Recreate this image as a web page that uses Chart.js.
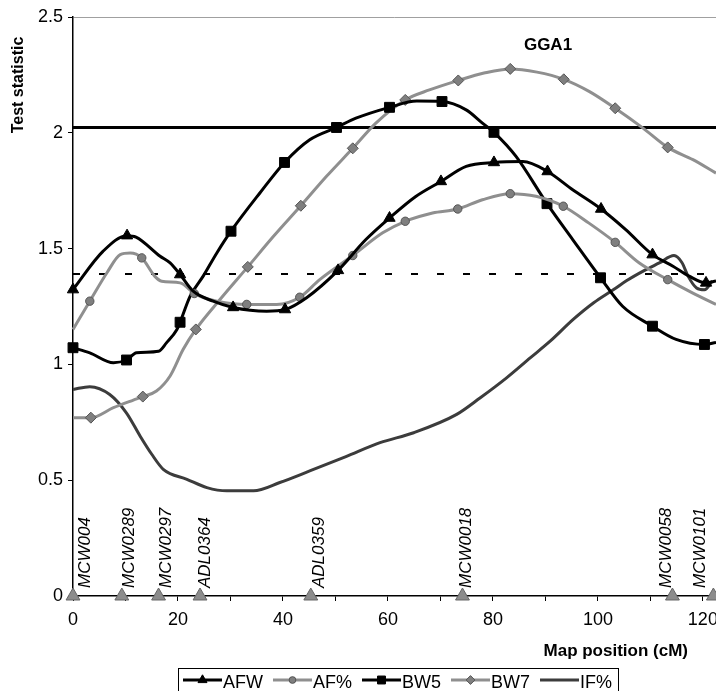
<!DOCTYPE html>
<html><head><meta charset="utf-8">
<script src="https://cdn.jsdelivr.net/npm/chart.js@4.4.1/dist/chart.umd.min.js"></script>
<style>html,body{margin:0;padding:0;background:#fff;}canvas{display:block;}</style>
</head><body>
<canvas id="c" width="716" height="691"></canvas>
<script>
// ---- data ----
const afwX = [0,5.7,10.3,12,16.6,18.5,20.4,22.9,26.7,30.5,36.9,40.4,44.5,50.5,55.8,60.3,65.3,70.1,74.9,80.2,85.7,90.4,95.2,100.6,105.3,110.4,114.3,117.4,120.6,122.5];
const afwY = [1.323,1.488,1.556,1.55,1.467,1.438,1.388,1.316,1.273,1.246,1.23,1.237,1.288,1.406,1.539,1.632,1.725,1.79,1.855,1.872,1.876,1.833,1.754,1.671,1.582,1.474,1.424,1.381,1.352,1.36];
const afwMarks = [0,10.3,20.4,30.5,40.4,50.5,60.3,70.1,80.2,90.4,100.6,110.4,120.6];

const afpX = [0,3.2,6.5,9,10.9,13.1,15.6,16.9,20.4,23.1,24.8,27.4,33.1,38.8,43.2,47,53.3,59,63.3,68.5,73.3,78,83.3,88.2,93.4,98.3,103.3,107.9,113.3,118,122.5];
const afpY = [1.151,1.273,1.397,1.474,1.481,1.46,1.38,1.359,1.352,1.306,1.289,1.273,1.259,1.259,1.29,1.366,1.47,1.568,1.618,1.654,1.671,1.711,1.737,1.726,1.683,1.61,1.527,1.438,1.366,1.309,1.259];
const afpMarks = [3.2,13.1,23.1,33.1,43.2,53.3,63.3,73.3,83.3,93.4,103.3,113.3];

const bw5X = [0,3.2,7.7,10.2,12.1,16.3,17.8,19.8,20.4,22.3,24.8,27.4,30.1,35.6,40.3,45.1,50.2,53.9,60.3,65.5,70.3,74.9,78,80.2,84.4,90.3,95.2,100.5,104.7,110.4,114.9,120.3,122.5];
const bw5Y = [1.072,1.05,1.007,1.019,1.05,1.057,1.093,1.151,1.182,1.294,1.381,1.481,1.575,1.74,1.872,1.97,2.023,2.063,2.11,2.137,2.135,2.099,2.042,2.002,1.898,1.694,1.539,1.374,1.251,1.165,1.108,1.086,1.095];
const bw5Marks = [0,10.2,20.4,30.1,40.3,50.2,60.3,70.3,80.2,90.3,100.5,110.4,120.3];

const bw7X = [0,3.4,7.7,11.5,13.3,15.9,18.5,21,23.4,28,33.3,38.2,43.4,48.3,53.3,57.7,63.3,67.9,73.4,78.3,83.3,88.4,93.5,98.4,103.3,108.6,113.3,118.1,122.5];
const bw7Y = [0.77,0.77,0.813,0.846,0.861,0.885,0.95,1.065,1.151,1.28,1.421,1.553,1.685,1.812,1.933,2.042,2.142,2.185,2.226,2.258,2.276,2.262,2.231,2.178,2.106,2.02,1.937,1.884,1.826];
const bw7Marks = [3.4,13.3,23.4,33.3,43.4,53.3,63.3,73.4,83.3,93.5,103.3,113.3];

const ifpX = [0,3.2,7,10.2,12.8,15,17.2,21.7,25.5,29.3,34.4,39.4,45.1,52,58.5,64.9,73.1,77.6,82.6,87.1,90.9,95.3,99.2,103,105.5,108.8,111.7,114.5,116,117.2,118.8,120.3,121.8];
const ifpY = [0.892,0.904,0.87,0.79,0.69,0.612,0.547,0.504,0.468,0.454,0.454,0.49,0.54,0.602,0.662,0.705,0.784,0.856,0.942,1.028,1.10,1.194,1.266,1.323,1.362,1.405,1.438,1.47,1.44,1.38,1.33,1.322,1.36];

const thresholdSolid = 2.023;
const thresholdDashed = 1.39;
const xRange = [0, 122.5];
const xTicks = [0,10,20,30,40,50,60,70,80,90,100,110,120];

const markerNames = ['MCW004','MCW0289','MCW0297','ADL0364','ADL0359','MCW0018','MCW0058','MCW0101'];
const markerPos   = [0, 9.3, 16.3, 24.2, 45.3, 74.2, 114.2, 122];
const markerLabelPos = [2.3, 10.7, 17.7, 25.2, 46.9, 75, 113.1, 119.5];

// ---- chart ----
const FONT = '"Liberation Sans", Arial, sans-serif';
const GREY = '#8f8f8f';

function series(label, xs, ys, marks, st) {
  return {
    label,
    data: xs.map((v, i) => ({x: v, y: ys[i]})),
    borderColor: st.color,
    backgroundColor: st.color,
    borderWidth: 3,
    pointStyle: st.ps || 'circle',
    pointRadius: ctx => (marks && ctx.dataIndex !== undefined && marks.includes(xs[ctx.dataIndex])) ? st.r : 0,
    pointBackgroundColor: st.fill,
    pointBorderColor: st.pb,
    pointBorderWidth: 1,
    cubicInterpolationMode: 'monotone',
    clip: false,
    fill: false,
    legendItem: st
  };
}

const datasets = [
  series('AFW', afwX, afwY, afwMarks, {color:'#000', ps:'triangle', r:6.5, fill:'#000', pb:'#000'}),
  series('AF%', afpX, afpY, afpMarks, {color:GREY, ps:'circle', r:4.2, fill:'#7f7f7f', pb:'#555'}),
  series('BW5', bw5X, bw5Y, bw5Marks, {color:'#000', ps:'rect', r:7, fill:'#000', pb:'#000'}),
  series('BW7', bw7X, bw7Y, bw7Marks, {color:GREY, ps:'rectRot', r:5.5, fill:'#7f7f7f', pb:'#555'}),
  series('IF%', ifpX, ifpY, null, {color:'#3c3c3c', ps:'line', r:0, fill:'#3c3c3c', pb:'#3c3c3c'}),
  {
    label: 'thr1', data: xRange.map(v => ({x: v, y: thresholdSolid})),
    borderColor: '#000', borderWidth: 3, pointRadius: 0, clip: false
  },
  {
    label: 'thr2', data: xRange.map(v => ({x: v, y: thresholdDashed})),
    borderColor: '#000', borderWidth: 2, borderDash: [7, 19], pointRadius: 0, clip: false
  },
  {
    label: 'markers', data: markerPos.map(v => ({x: v, y: 0})),
    showLine: false, pointStyle: 'triangle', pointRadius: 8,
    pointBackgroundColor: '#8c8c8c', pointBorderColor: '#666', pointBorderWidth: 1, clip: false
  }
];

const deco = {
  id: 'deco',
  afterDraw(chart) {
    const {ctx, scales: {x, y}} = chart;
    ctx.save();
    ctx.fillStyle = '#000';
    // marker labels
    ctx.font = 'italic 17px ' + FONT;
    ctx.textAlign = 'left';
    ctx.textBaseline = 'middle';
    const by = y.getPixelForValue(0) - 8;
    markerNames.forEach((n, i) => {
      ctx.save();
      ctx.translate(x.getPixelForValue(markerLabelPos[i]), by);
      ctx.rotate(-Math.PI / 2);
      ctx.fillText(n, 0, 0);
      ctx.restore();
    });
    // y title
    ctx.font = 'bold 16px ' + FONT;
    ctx.save();
    ctx.translate(19, 85);
    ctx.rotate(-Math.PI / 2);
    ctx.textAlign = 'center';
    ctx.fillText('Test statistic', 0, 0);
    ctx.restore();
    // x title
    ctx.font = 'bold 17px ' + FONT;
    ctx.textAlign = 'right';
    ctx.textBaseline = 'alphabetic';
    ctx.fillText('Map position (cM)', 688, 656);
    // GGA1
    ctx.textAlign = 'center';
    ctx.fillText('GGA1', 548, 50);
    // legend
    const lx0 = 178, ly0 = 668;
    ctx.fillStyle = '#fff';
    ctx.fillRect(lx0, ly0, 440, 40);
    ctx.strokeStyle = '#000';
    ctx.lineWidth = 1;
    ctx.strokeRect(lx0 + 0.5, ly0 + 0.5, 440, 40);
    ctx.font = '18px ' + FONT;
    ctx.textAlign = 'left';
    let cx = 183;
    const lineY = 680;
    chart.data.datasets.slice(0, 5).forEach(ds => {
      const st = ds.legendItem;
      ctx.strokeStyle = st.color;
      ctx.lineWidth = 3;
      ctx.beginPath();
      ctx.moveTo(cx, lineY);
      ctx.lineTo(cx + 39, lineY);
      ctx.stroke();
      if (st.r > 0) {
        ctx.fillStyle = st.fill;
        ctx.strokeStyle = st.pb;
        ctx.lineWidth = 1;
        Chart.helpers.drawPoint(ctx, {pointStyle: st.ps, rotation: 0, borderWidth: 1, radius: st.r * 0.8}, cx + 19.5, lineY);
      }
      ctx.fillStyle = '#000';
      ctx.fillText(ds.label, cx + 40, 688);
      cx += 40 + ctx.measureText(ds.label).width + 10;
    });
    ctx.restore();
  }
};

new Chart(document.getElementById('c'), {
  type: 'line',
  data: {datasets},
  plugins: [deco],
  options: {
    responsive: false,
    animation: false,
    events: [],
    layout: {autoPadding: false, padding: {top: 17, right: 0, bottom: 0, left: 0}},
    plugins: {legend: {display: false}, tooltip: {enabled: false}},
    scales: {
      x: {
        type: 'linear', min: xRange[0], max: xRange[1],
        afterBuildTicks: s => { s.ticks = xTicks.map(v => ({value: v})); },
        afterFit: s => { s.height = 95; s.paddingRight = 0; s.paddingLeft = 0; },
        ticks: {
          callback: v => (v % 20 === 0 ? String(v) : ''),
          font: {family: FONT, size: 18}, color: '#000', padding: 8,
          maxRotation: 0, autoSkip: false
        },
        grid: {drawOnChartArea: false, tickLength: 5, tickColor: '#000', tickWidth: 1},
        border: {color: '#000', width: 1.5}
      },
      y: {
        min: 0, max: 2.5,
        afterFit: s => { s.width = 73; },
        ticks: {stepSize: 0.5, callback: v => String(v), font: {family: FONT, size: 18}, color: '#000', padding: 5},
        grid: {
          color: c => (c.tick && c.tick.value === 2.5) ? '#a0a0a0' : 'rgba(0,0,0,0)',
          tickColor: '#000', tickLength: 5, lineWidth: 1
        },
        border: {color: '#000', width: 1.5}
      }
    }
  }
});
</script>
</body></html>
